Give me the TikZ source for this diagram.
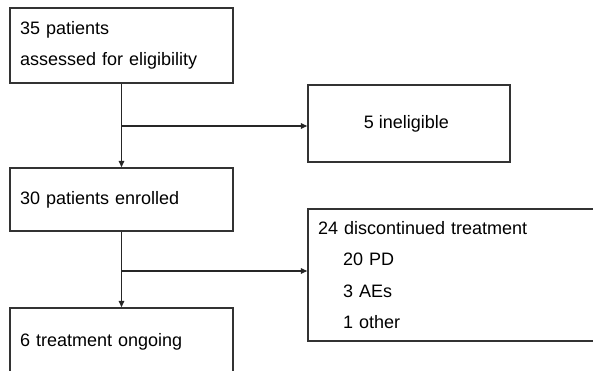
\documentclass[tikz,border=0pt]{standalone}
\usepackage{fontspec}
\setmainfont{Liberation Sans}
\usetikzlibrary{arrows.meta}
\tikzset{
  flowbox/.style={draw=black!80, line width=1.4pt, rectangle, inner xsep=10pt, inner ysep=0pt,
    font=\fontsize{18}{31.5}\selectfont},
  flowarrow/.style={draw=black!85, line width=1.4pt, -{Triangle[length=6.5pt,width=5.5pt]}}
}
\begin{document}
\begin{tikzpicture}[x=1pt, y=-1pt]
    \useasboundingbox (0,0) rectangle (593,371);

    % Screening box
    \node[flowbox, minimum width=223pt, minimum height=75pt, text width=203pt, align=left] (assess) at (121.5,45.5) {
        35 patients\\
        assessed for eligibility
    };

    % Excluded box
    \node[flowbox, minimum width=202pt, minimum height=77pt, align=center] (inelig) at (409,123.5) {
        5 ineligible
    };

    % Enrolment box
    \node[flowbox, minimum width=223pt, minimum height=63pt, text width=203pt, align=left] (enrolled) at (121.5,199.5) {
        30 patients enrolled
    };

    % Discontinued box
    \node[flowbox, minimum width=289pt, minimum height=132pt, text width=269pt, align=left] (discont) at (452.5,275) {
        24 discontinued treatment\\
        \hspace*{25pt}20 PD\\
        \hspace*{25pt}3 AEs\\
        \hspace*{25pt}1 other
    };

    % Ongoing box
    \node[flowbox, minimum width=223pt, minimum height=68pt, text width=203pt, align=left] (ongoing) at (121.5,342) {
        6 treatment ongoing
    };

    % Flow
    \coordinate (split1) at (assess.south |- 0,126);
    \coordinate (split2) at (enrolled.south |- 0,271);
    \draw[flowarrow] (assess.south) -- (enrolled.north);
    \draw[flowarrow] (split1) -- (split1 -| inelig.west);
    \draw[flowarrow] (enrolled.south) -- (ongoing.north);
    \draw[flowarrow] (split2) -- (split2 -| discont.west);

\end{tikzpicture}
\end{document}
